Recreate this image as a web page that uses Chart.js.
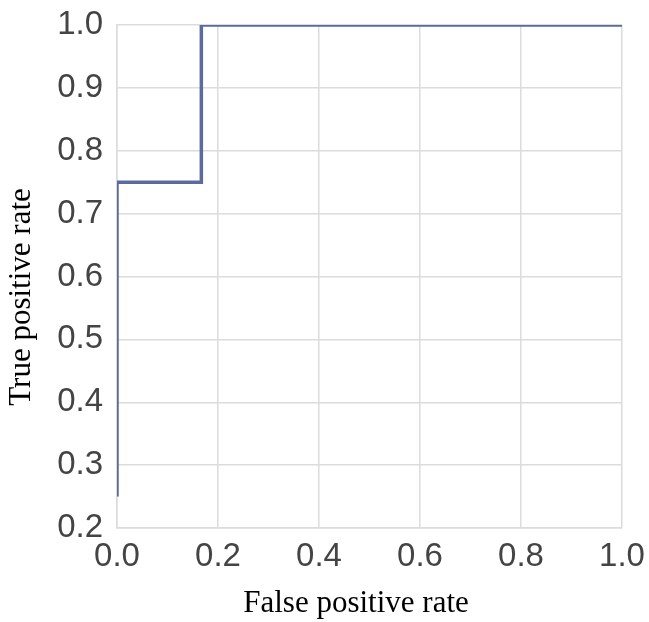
<!DOCTYPE html>
<html>
<head>
<meta charset="utf-8">
<script src="https://cdn.jsdelivr.net/npm/chart.js@4"></script>
<style>
  html, body { margin: 0; padding: 0; background: #ffffff; }
  #wrap { width: 649px; height: 622px; position: relative; }
</style>
</head>
<body>
<div id="wrap"><canvas id="c" width="649" height="622"></canvas></div>
<script>
// ROC curve points
const falsePositiveRate = [0, 0, 0.167, 0.167, 1.0];
const truePositiveRate  = [0.25, 0.75, 0.75, 1.0, 1.0];
const xTickValues = [0.0, 0.2, 0.4, 0.6, 0.8, 1.0];
const yTickValues = [0.2, 0.3, 0.4, 0.5, 0.6, 0.7, 0.8, 0.9, 1.0];
const xTitle = 'False positive rate';
const yTitle = 'True positive rate';

const points = falsePositiveRate.map((x, i) => ({ x: x, y: truePositiveRate[i] }));

const titlePlugin = {
  id: 'axisTitles',
  afterDraw(chart) {
    const ctx = chart.ctx;
    ctx.save();
    ctx.fillStyle = '#000000';
    ctx.font = '31px "Liberation Serif", "Times New Roman", serif';
    ctx.textAlign = 'center';
    ctx.textBaseline = 'middle';
    ctx.fillText(xTitle, 356, 604);
    ctx.translate(22, 297);
    ctx.rotate(-Math.PI / 2);
    ctx.fillText(yTitle, 0, 0);
    ctx.restore();
  }
};

const tickFont = { family: '"Liberation Sans", Arial, sans-serif', size: 33 };
const gridColor = '#dcdcdc';

new Chart(document.getElementById('c'), {
  type: 'scatter',
  data: {
    datasets: [{
      data: points,
      showLine: true,
      borderColor: '#5b6b9f',
      borderWidth: 3.5,
      pointRadius: 0,
      fill: false,
      tension: 0
    }]
  },
  options: {
    responsive: false,
    animation: false,
    layout: { padding: { top: 25, right: 27, bottom: 0, left: 0 } },
    plugins: { legend: { display: false }, tooltip: { enabled: false } },
    scales: {
      x: {
        type: 'linear',
        min: 0, max: 1,
        afterBuildTicks(scale) { scale.ticks = xTickValues.map(v => ({ value: v })); },
        afterFit(scale) {
          scale.height = 94;
          scale.paddingLeft = 0; scale.paddingRight = 0;
        },
        ticks: {
          font: tickFont, color: '#444444', padding: 9,
          maxRotation: 0, autoSkip: false,
          callback: v => Number(v).toFixed(1)
        },
        grid: { color: gridColor, lineWidth: 1.5, drawTicks: false },
        border: { color: gridColor, width: 1.5 }
      },
      y: {
        type: 'linear',
        min: 0.2, max: 1,
        afterBuildTicks(scale) { scale.ticks = yTickValues.map(v => ({ value: v })); },
        afterFit(scale) {
          scale.width = 117;
          scale.paddingTop = 0; scale.paddingBottom = 0;
        },
        ticks: {
          font: tickFont, color: '#444444', padding: 14,
          autoSkip: false,
          callback: v => Number(v).toFixed(1)
        },
        grid: { color: gridColor, lineWidth: 1.5, drawTicks: false },
        border: { color: gridColor, width: 1.5 }
      }
    }
  },
  plugins: [titlePlugin]
});
</script>
</body>
</html>
